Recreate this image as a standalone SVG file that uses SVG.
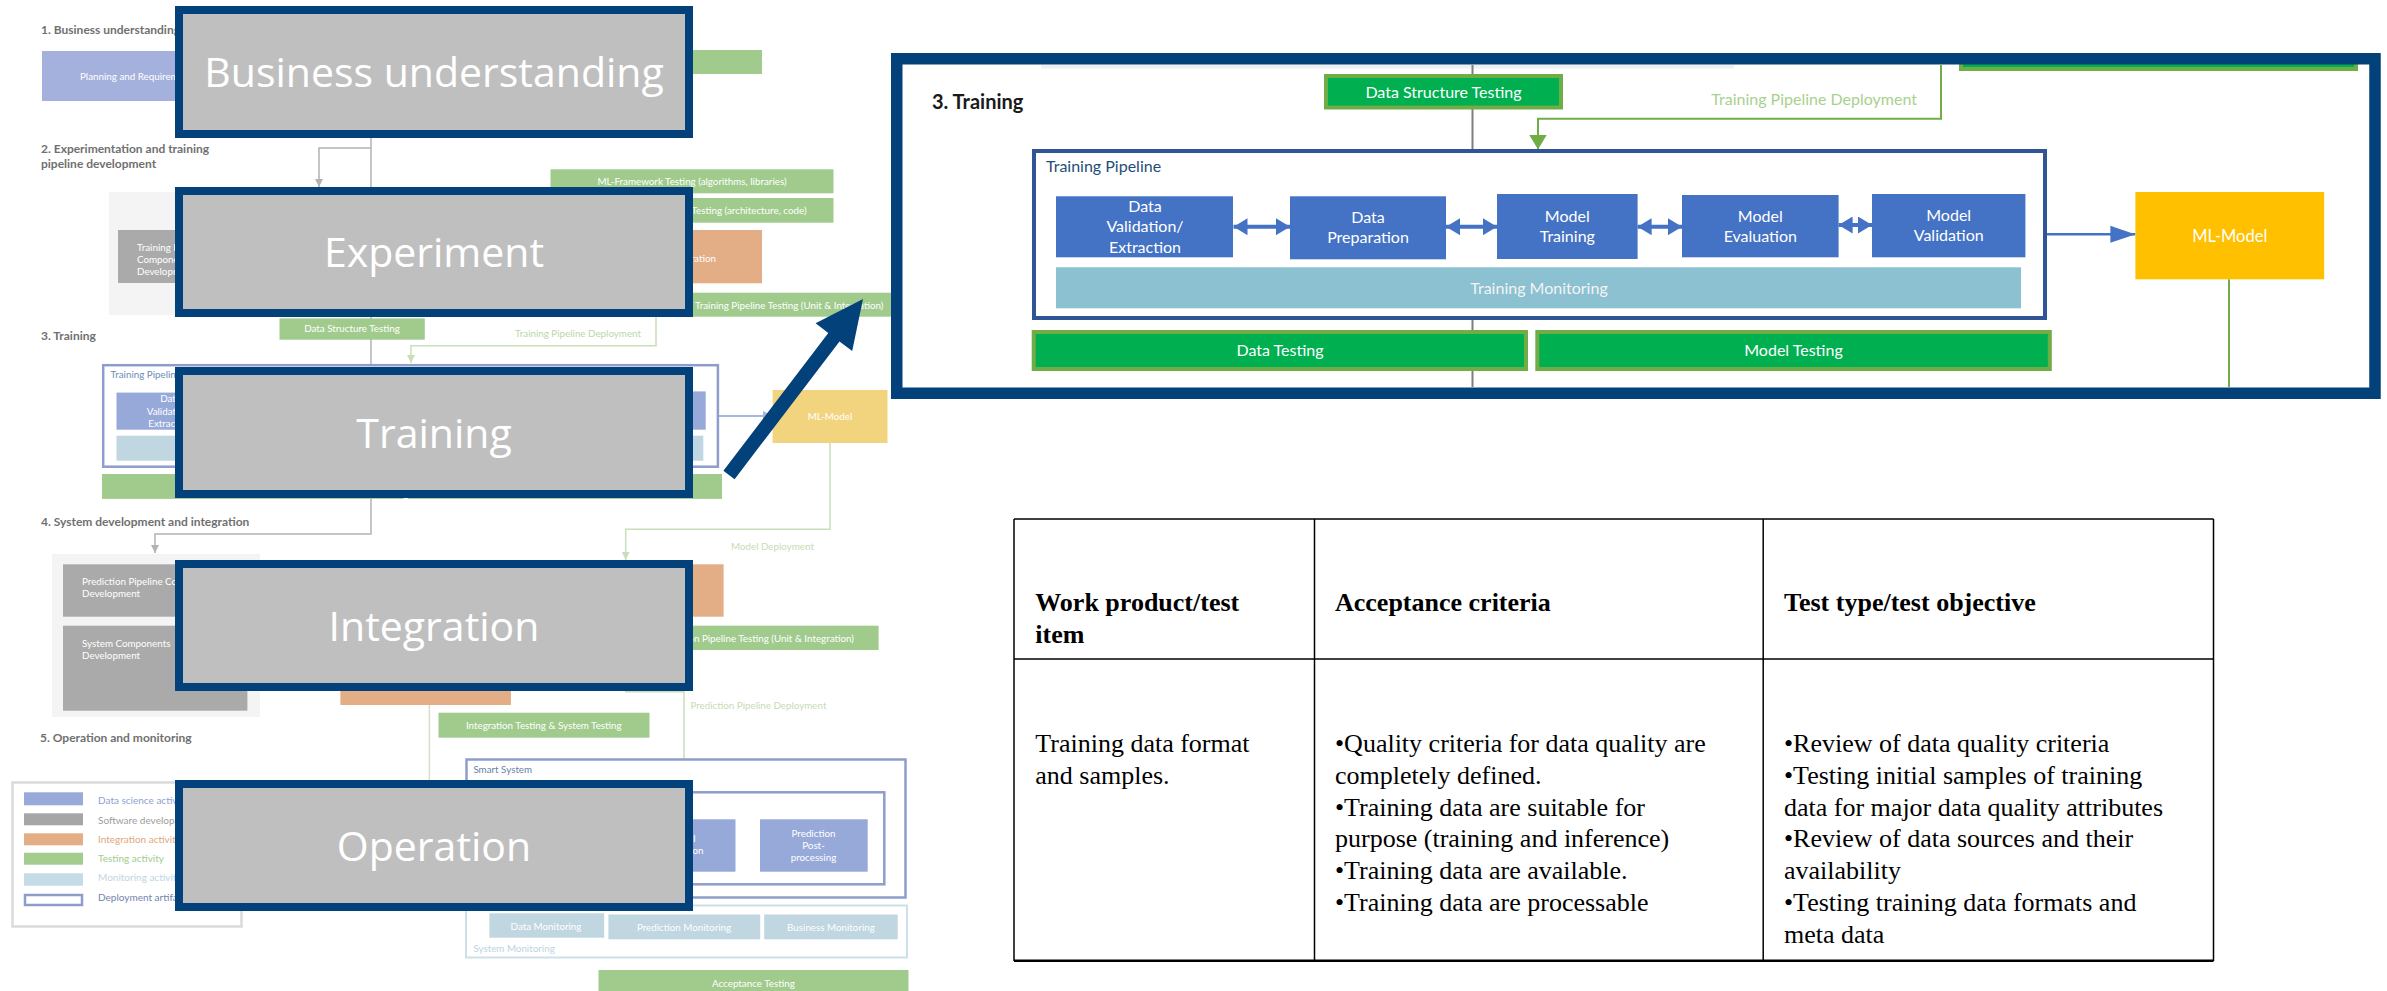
<svg xmlns="http://www.w3.org/2000/svg" width="2387" height="991" viewBox="0 0 2387 991">
<defs>
  <marker id="mGray" viewBox="0 0 8 8" refX="8" refY="4" markerWidth="8" markerHeight="8" markerUnits="userSpaceOnUse" orient="auto"><path d="M0,0L8,4L0,8z" fill="#b3b3b3"/></marker>
  <marker id="mLGreen" viewBox="0 0 8 8" refX="8" refY="4" markerWidth="8" markerHeight="8" markerUnits="userSpaceOnUse" orient="auto"><path d="M0,0L8,4L0,8z" fill="#c8dfba"/></marker>
  <marker id="mLBlue" viewBox="0 0 10 10" refX="10" refY="5" markerWidth="10" markerHeight="10" markerUnits="userSpaceOnUse" orient="auto"><path d="M0,0L10,5L0,10z" fill="#a8b6dd"/></marker>
  <marker id="mLBlue2" viewBox="0 0 12 14" refX="12" refY="7" markerWidth="12" markerHeight="14" markerUnits="userSpaceOnUse" orient="auto"><path d="M0,0L12,7L0,14z" fill="#97a9d9"/></marker>
  <marker id="mGreen" viewBox="0 0 15 18" refX="15" refY="9" markerWidth="15" markerHeight="18" markerUnits="userSpaceOnUse" orient="auto"><path d="M0,0L15,9L0,18z" fill="#70ad47"/></marker>
  <marker id="mBlue" viewBox="0 0 25 17" refX="25" refY="8.5" markerWidth="25" markerHeight="17" markerUnits="userSpaceOnUse" orient="auto"><path d="M0,0L25,8.5L0,17z" fill="#4472c4"/></marker>
  <marker id="mBlueD" viewBox="0 0 14 17" refX="14" refY="8.5" markerWidth="14" markerHeight="17" markerUnits="userSpaceOnUse" orient="auto-start-reverse"><path d="M0,0L14,8.5L0,17z" fill="#4472c4"/></marker>
</defs>
<style>
  .ov-box{fill:#bfbfbf;stroke:#02417a;stroke-width:8}
  .ov-txt{font-family:"Open Sans",sans-serif;font-size:41px;fill:#ffffff;text-anchor:middle}
  .bg-lbl{font-family:Lato,sans-serif;font-weight:bold;font-size:12px;fill:#707070}
  .bg-t{font-family:Lato,sans-serif;font-size:9.8px;fill:#ffffff}
  .c{text-anchor:middle}
  .e{text-anchor:end}
  .bg-green{fill:#a0cb8d}
  .bg-orange{fill:#e3ad85}
  .bg-gray{fill:#aaaaaa}
  .bg-panel{fill:#f4f4f4}
  .bg-blue{fill:#97a9d9}
  .bg-mon{fill:#c0d6e0}
  .bg-dep{fill:#ffffff;stroke:#8f9dcc;stroke-width:2.5}
  .ln-gray{fill:none;stroke:#b3b3b3;stroke-width:1.5}
  .ln-lgreen{fill:none;stroke:#c8dfba;stroke-width:1.5}
  .rp-green{fill:#00b050;stroke:#70ad47;stroke-width:4}
  .rp-blue{fill:#4472c4}
  .rp-t{font-family:Lato,sans-serif;font-size:16px;fill:#ffffff;text-anchor:middle}
  .tb-line{stroke:#000000;stroke-width:1.5}
  .tb-h{font-family:"Liberation Serif","Times New Roman",serif;font-weight:bold;font-size:26px;fill:#000000}
  .tb-b{font-family:"Liberation Serif","Times New Roman",serif;font-size:26px;fill:#000000}
</style>
<rect x="0" y="0" width="2387" height="991" fill="#ffffff"/>

<!-- ===== Faded background lifecycle diagram (left) ===== -->
<g id="bg-connectors">
  <path class="ln-gray" d="M371,138 V187"/>
  <path class="ln-gray" d="M371,148 H319 V187" marker-end="url(#mGray)"/>
  <path class="ln-gray" d="M371,317 V364"/>
  <path class="ln-gray" d="M371,498 V534 H155 V553" marker-end="url(#mGray)"/>
  <path class="ln-lgreen" d="M656,317 V345.7 H411 V363" marker-end="url(#mLGreen)"/>
  <path class="ln-lgreen" d="M830,443 V529.3 H625.7 V560" marker-end="url(#mLGreen)"/>
  <path class="ln-lgreen" d="M625,691.7 H684 V792"/>
  <path fill="none" stroke="#d6e0cc" stroke-width="1.5" d="M429.4,705 V780"/>
  <path fill="none" stroke="#a8b6dd" stroke-width="2" d="M718,416 H773" marker-end="url(#mLBlue)"/>
  <path fill="none" stroke="#97a9d9" stroke-width="3" d="M735.5,845.7 H760" marker-end="url(#mLBlue2)"/>
  <text class="bg-t" x="641" y="337.3" text-anchor="end" style="fill:#b9d8a8">Training Pipeline Deployment</text>
  <text class="bg-t" x="731" y="550" style="fill:#c5dcb5">Model Deployment</text>
  <text class="bg-t" x="690.4" y="708.5" style="fill:#c5dcb5">Prediction Pipeline Deployment</text>
</g>

<g id="bg-section1">
  <text class="bg-lbl" x="41" y="34">1. Business understanding</text>
  <g id="bg-planning"><rect x="42" y="51" width="300" height="50" fill="#a4b1dc"/><text class="bg-t" x="80" y="80">Planning and Requirements</text></g>
  <g id="bg-s1-green"><rect class="bg-green" x="600" y="50" width="162" height="24"/></g>
</g>

<g id="bg-section2">
  <text class="bg-lbl" x="41" y="153">2. Experimentation and training</text>
  <text class="bg-lbl" x="41" y="168">pipeline development</text>
  <rect class="bg-panel" x="109" y="192" width="410" height="123"/>
  <g id="bg-tp-components"><rect class="bg-gray" x="118" y="230" width="200" height="53"/>
    <text class="bg-t" x="137" y="250.7">Training Pipeline</text>
    <text class="bg-t" x="137" y="262.9">Components</text>
    <text class="bg-t" x="137" y="275.3">Development</text></g>
  <g id="bg-mlframework"><rect class="bg-green" x="550.5" y="169.3" width="283" height="24"/>
    <text class="bg-t c" x="692" y="185">ML-Framework Testing (algorithms, libraries)</text></g>
  <g id="bg-codetest"><rect class="bg-green" x="550.5" y="198" width="283" height="24.7"/>
    <text class="bg-t e" x="806.5" y="214">Testing (architecture, code)</text></g>
  <g id="bg-tp-integration"><rect class="bg-orange" x="560" y="230" width="202" height="53.3"/>
    <text class="bg-t e" x="716" y="261.5">Integration</text></g>
  <g id="bg-tp-testing"><rect class="bg-green" x="600" y="292.7" width="308" height="24"/>
    <text class="bg-t" x="695" y="308.5">Training Pipeline Testing (Unit &amp; Integration)</text></g>
</g>

<g id="bg-section3">
  <text class="bg-lbl" x="41" y="339.7">3. Training</text>
  <g id="bg-dst"><rect class="bg-green" x="279.5" y="318.4" width="145.3" height="21.3"/>
    <text class="bg-t c" x="352" y="332.4">Data Structure Testing</text></g>
  <g id="bg-pipeline"><rect class="bg-dep" x="103.2" y="365.2" width="614.7" height="101.5"/>
    <text class="bg-t" x="110.5" y="377.8" style="fill:#6d8bb8">Training Pipeline</text>
    <rect class="bg-blue" x="116.5" y="392.6" width="107.7" height="37.1"/>
    <text class="bg-t c" x="170.4" y="402.1">Data</text>
    <text class="bg-t c" x="170.4" y="414.5">Validation/</text>
    <text class="bg-t c" x="170.4" y="427.1">Extraction</text>
    <rect class="bg-blue" x="258.8" y="392.6" width="94.9" height="38.3"/>
    <rect class="bg-blue" x="384.7" y="391.4" width="85.7" height="39.5"/>
    <rect class="bg-blue" x="497.2" y="392" width="95.4" height="37.7"/>
    <rect class="bg-blue" x="612.7" y="391.4" width="93" height="38.3"/>
    <rect class="bg-mon" x="116.5" y="435.7" width="586.8" height="25"/></g>
  <g id="bg-mlmodel"><rect x="772.6" y="390" width="114.9" height="53" fill="#f2d47e"/>
    <text class="bg-t c" x="830" y="419.5">ML-Model</text></g>
  <g id="bg-datatesting"><rect class="bg-green" x="102" y="474" width="301.6" height="24.9"/></g>
  <g id="bg-modeltesting"><rect class="bg-green" x="407.9" y="474" width="314.1" height="24.9"/></g>
</g>

<g id="bg-section4">
  <text class="bg-lbl" x="41" y="526">4. System development and integration</text>
  <rect class="bg-panel" x="52" y="554" width="208" height="163"/>
  <g id="bg-pp-components"><rect class="bg-gray" x="63" y="564.3" width="184.4" height="52.4"/>
    <text class="bg-t" x="82" y="584.5">Prediction Pipeline Components</text>
    <text class="bg-t" x="82" y="596.5">Development</text></g>
  <g id="bg-sys-components"><rect class="bg-gray" x="63" y="625.7" width="184.4" height="85"/>
    <text class="bg-t" x="82" y="647">System Components</text>
    <text class="bg-t" x="82" y="659">Development</text></g>
  <g id="bg-pp-integration"><rect class="bg-orange" x="560" y="564.3" width="163.6" height="52.4"/></g>
  <g id="bg-pp-testing"><rect class="bg-green" x="634" y="625.7" width="244.6" height="24.3"/>
    <text class="bg-t e" x="854" y="641.5">Prediction Pipeline Testing (Unit &amp; Integration)</text></g>
  <g id="bg-sys-integration"><rect class="bg-orange" x="340.4" y="660" width="170.5" height="45"/></g>
  <g id="bg-ist"><rect class="bg-green" x="438.5" y="712.7" width="211" height="25"/>
    <text class="bg-t c" x="543.8" y="728.7">Integration Testing &amp; System Testing</text></g>
</g>

<g id="bg-section5">
  <text class="bg-lbl" x="40" y="742">5. Operation and monitoring</text>
  <g id="bg-smartsystem"><rect class="bg-dep" x="466.5" y="759.5" width="439" height="138"/>
    <text class="bg-t" x="473.4" y="773" style="fill:#6a7fa8">Smart System</text>
    <rect class="bg-dep" x="500" y="792.3" width="384.3" height="92"/>
    <rect class="bg-blue" x="600" y="819.3" width="135.5" height="52.4"/>
    <text class="bg-t e" x="695.5" y="841.7">Model</text>
    <text class="bg-t e" x="703.5" y="854.3">Execution</text>
    <rect class="bg-blue" x="760" y="819.3" width="107.7" height="52.4"/>
    <text class="bg-t c" x="813.5" y="837">Prediction</text>
    <text class="bg-t c" x="813.5" y="849">Post-</text>
    <text class="bg-t c" x="813.5" y="861">processing</text></g>
  <g id="bg-sysmonitoring"><rect x="466" y="905.5" width="441" height="52" fill="none" stroke="#cddfe8" stroke-width="2"/>
    <rect class="bg-mon" x="489.4" y="913.3" width="114.8" height="24.4"/>
    <text class="bg-t c" x="546" y="930">Data Monitoring</text>
    <rect class="bg-mon" x="608.4" y="914.5" width="151.8" height="24.8"/>
    <text class="bg-t c" x="684" y="930.5">Prediction Monitoring</text>
    <rect class="bg-mon" x="764.2" y="914.5" width="133.5" height="24.8"/>
    <text class="bg-t c" x="831" y="930.5">Business Monitoring</text>
    <text class="bg-t" x="473.4" y="951.5" style="fill:#bdd3e3">System Monitoring</text></g>
  <g id="bg-acceptance"><rect class="bg-green" x="598.5" y="970" width="310" height="25"/>
    <text class="bg-t c" x="753.4" y="987">Acceptance Testing</text></g>
  <g id="bg-legend"><rect x="12.5" y="782.5" width="229" height="144" fill="#ffffff" stroke="#dadada" stroke-width="2.5"/>
    <rect x="24" y="792.3" width="59" height="13" fill="#98a9da"/>
    <text class="bg-t" x="98" y="804" style="font-size:10px;fill:#8ea1d3">Data science activity</text>
    <rect x="24" y="813.3" width="59" height="12" fill="#a6a6a6"/>
    <text class="bg-t" x="98" y="823.5" style="font-size:10px;fill:#9d9d9d">Software development</text>
    <rect x="24" y="833.3" width="59" height="12" fill="#e3ad85"/>
    <text class="bg-t" x="98" y="843" style="font-size:10px;fill:#e2a679">Integration activity</text>
    <rect x="24" y="852.7" width="59" height="12" fill="#a3cc8e"/>
    <text class="bg-t" x="98" y="861.5" style="font-size:10px;fill:#a3cb8f">Testing activity</text>
    <rect x="24" y="873.3" width="59" height="12.4" fill="#c5dbe5"/>
    <text class="bg-t" x="98" y="881" style="font-size:10px;fill:#c0d5e1">Monitoring activity</text>
    <rect x="25" y="895" width="57" height="10" fill="#ffffff" stroke="#8f9dcc" stroke-width="2.5"/>
    <text class="bg-t" x="98" y="901" style="font-size:10px;fill:#7384ad">Deployment artifact</text></g>
</g>

<!-- ===== Zoomed Training panel (right top) ===== -->
<g id="training-panel">
  <rect x="891" y="53" width="1491" height="346" fill="#ffffff"/>
  <rect x="1041" y="65" width="693" height="3.5" fill="#f0f0f0"/>
  <g id="tp-connectors">
    <line x1="1472.5" y1="65" x2="1472.5" y2="387" stroke="#7f7f7f" stroke-width="2"/>
    <path d="M1941,65 V118.7 H1538 V149.5" fill="none" stroke="#70ad47" stroke-width="2" marker-end="url(#mGreen)"/>
    <text x="1917" y="104.5" text-anchor="end" font-family="Lato,sans-serif" font-size="16" fill="#a9d18e">Training Pipeline Deployment</text>
    <line x1="2229" y1="279.3" x2="2229" y2="387" stroke="#70ad47" stroke-width="2"/>
  </g>
  <g id="tp-top-testing"><rect class="rp-green" x="1961" y="58" width="395" height="11"/></g>
  <text x="932" y="109" font-family="Lato,sans-serif" font-weight="bold" font-size="20" fill="#1a1a1a">3. Training</text>
  <g id="tp-dst"><rect class="rp-green" x="1326" y="76" width="235" height="31.5"/>
    <text class="rp-t" x="1443.5" y="97.5">Data Structure Testing</text></g>
  <g id="tp-pipeline"><rect x="1034" y="151" width="1011" height="167" fill="#ffffff" stroke="#2f5597" stroke-width="4"/>
    <text x="1046" y="171.5" font-family="Lato,sans-serif" font-size="16" fill="#1f4e79">Training Pipeline</text></g>
  <g id="tp-dve"><rect class="rp-blue" x="1056" y="196.3" width="177" height="61"/>
    <text class="rp-t" x="1145" y="211.7">Data</text>
    <text class="rp-t" x="1145" y="232.3">Validation/</text>
    <text class="rp-t" x="1145" y="252.7">Extraction</text></g>
  <g id="tp-dp"><rect class="rp-blue" x="1290" y="196.3" width="156" height="63"/>
    <text class="rp-t" x="1368" y="222.7">Data</text>
    <text class="rp-t" x="1368" y="242.7">Preparation</text></g>
  <g id="tp-mt"><rect class="rp-blue" x="1497" y="194" width="140.6" height="65"/>
    <text class="rp-t" x="1567.3" y="221.7">Model</text>
    <text class="rp-t" x="1567.3" y="241.7">Training</text></g>
  <g id="tp-me"><rect class="rp-blue" x="1682" y="195" width="156.6" height="62.3"/>
    <text class="rp-t" x="1760.3" y="221.7">Model</text>
    <text class="rp-t" x="1760.3" y="241.7">Evaluation</text></g>
  <g id="tp-mv"><rect class="rp-blue" x="1872" y="194" width="153.4" height="63.3"/>
    <text class="rp-t" x="1948.7" y="220.5">Model</text>
    <text class="rp-t" x="1948.7" y="241">Validation</text></g>
  <g id="tp-arrows">
    <line x1="1233.5" y1="226.7" x2="1290" y2="226.7" stroke="#4472c4" stroke-width="4" marker-start="url(#mBlueD)" marker-end="url(#mBlueD)"/>
    <line x1="1446" y1="226.7" x2="1497" y2="226.7" stroke="#4472c4" stroke-width="4" marker-start="url(#mBlueD)" marker-end="url(#mBlueD)"/>
    <line x1="1637.6" y1="226.7" x2="1682" y2="226.7" stroke="#4472c4" stroke-width="4" marker-start="url(#mBlueD)" marker-end="url(#mBlueD)"/>
    <line x1="1838.6" y1="225" x2="1872" y2="225" stroke="#4472c4" stroke-width="4" marker-start="url(#mBlueD)" marker-end="url(#mBlueD)"/>
    <line x1="2047" y1="234.3" x2="2135.4" y2="234.3" stroke="#4472c4" stroke-width="2.5" marker-end="url(#mBlue)"/>
  </g>
  <g id="tp-monitoring"><rect x="1056" y="267.3" width="965" height="41" fill="#8bc1d0"/>
    <text class="rp-t" x="1539" y="294" style="fill:#f4f4f4">Training Monitoring</text></g>
  <g id="tp-mlmodel"><rect x="2135.4" y="192" width="188.8" height="87.3" fill="#ffc000"/>
    <text class="rp-t" x="2229.8" y="242" style="font-size:16.5px">ML-Model</text></g>
  <g id="tp-datatesting"><rect class="rp-green" x="1033.7" y="332" width="492.3" height="37"/>
    <text class="rp-t" x="1280" y="356">Data Testing</text></g>
  <g id="tp-modeltesting"><rect class="rp-green" x="1537.3" y="332" width="512.5" height="37"/>
    <text class="rp-t" x="1793.5" y="356">Model Testing</text></g>
  <rect x="896.75" y="58.75" width="1478.25" height="334.5" fill="none" stroke="#02417a" stroke-width="11.5"/>
</g>

<!-- ===== Phase overlay boxes ===== -->
<g id="phase-business"><rect class="ov-box" x="179" y="10" width="510" height="124"/><text class="ov-txt" x="434" y="87">Business understanding</text></g>
<g id="phase-experiment"><rect class="ov-box" x="179" y="191" width="510" height="122"/><text class="ov-txt" x="434" y="267">Experiment</text></g>
<g id="phase-training"><rect class="ov-box" x="179" y="371" width="510" height="123"/><text class="ov-txt" x="434" y="447.5">Training</text></g>
<g id="phase-integration"><rect class="ov-box" x="179" y="564" width="510" height="123"/><text class="ov-txt" x="434" y="640.5">Integration</text></g>
<g id="phase-operation"><rect class="ov-box" x="179" y="784" width="510" height="123"/><text class="ov-txt" x="434" y="860.5">Operation</text></g>

<!-- ===== Zoom arrow ===== -->
<g id="zoom-arrow">
  <polygon points="723.4,470.8 828.3,333 815.6,323.3 863,299 852.2,351.1 839.5,341.4 734.6,479.2" fill="#02417a"/>
</g>

<!-- ===== Table ===== -->
<g id="criteria-table">
  <line class="tb-line" x1="1014" y1="519" x2="2213.5" y2="519"/>
  <line class="tb-line" x1="1014" y1="659" x2="2213.5" y2="659"/>
  <line x1="1014" y1="960.7" x2="2213.5" y2="960.7" stroke="#000" stroke-width="2.5"/>
  <line class="tb-line" x1="1014" y1="519" x2="1014" y2="961"/>
  <line class="tb-line" x1="1314.5" y1="519" x2="1314.5" y2="961"/>
  <line class="tb-line" x1="1763.2" y1="519" x2="1763.2" y2="961"/>
  <line class="tb-line" x1="2213.5" y1="519" x2="2213.5" y2="961"/>
  <text class="tb-h" x="1035.3" y="611">Work product/test</text>
  <text class="tb-h" x="1035.3" y="642.7">item</text>
  <text class="tb-h" x="1335" y="611">Acceptance criteria</text>
  <text class="tb-h" x="1784" y="611">Test type/test objective</text>
  <text class="tb-b" x="1035.3" y="752">Training data format</text>
  <text class="tb-b" x="1035.3" y="783.8">and samples.</text>
  <text class="tb-b" x="1335" y="752">•Quality criteria for data quality are</text>
  <text class="tb-b" x="1335" y="783.8">completely defined.</text>
  <text class="tb-b" x="1335" y="815.6">•Training data are suitable for</text>
  <text class="tb-b" x="1335" y="847.4">purpose (training and inference)</text>
  <text class="tb-b" x="1335" y="879.2">•Training data are available.</text>
  <text class="tb-b" x="1335" y="911">•Training data are processable</text>
  <text class="tb-b" x="1784" y="752">•Review of data quality criteria</text>
  <text class="tb-b" x="1784" y="783.8">•Testing initial samples of training</text>
  <text class="tb-b" x="1784" y="815.6">data for major data quality attributes</text>
  <text class="tb-b" x="1784" y="847.4">•Review of data sources and their</text>
  <text class="tb-b" x="1784" y="879.2">availability</text>
  <text class="tb-b" x="1784" y="911">•Testing training data formats and</text>
  <text class="tb-b" x="1784" y="942.8">meta data</text>
</g>
</svg>
